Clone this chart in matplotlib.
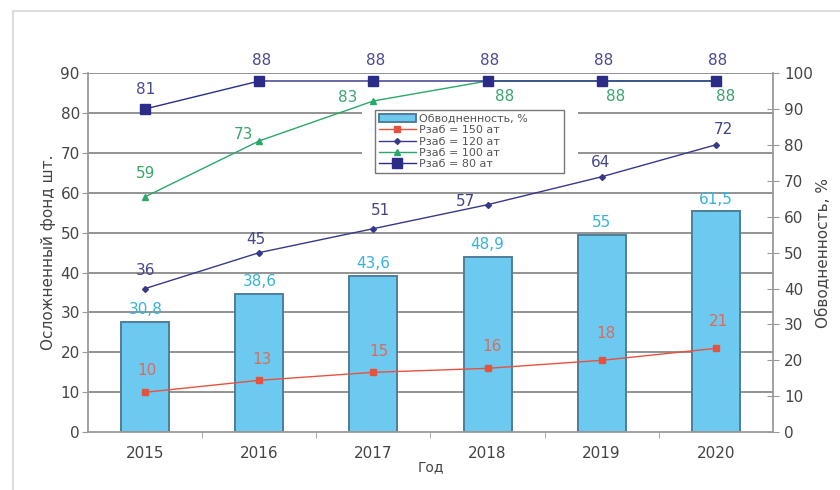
import matplotlib
matplotlib.use('Agg')
import matplotlib.pyplot as plt
import matplotlib.transforms as mtransforms
from matplotlib.patches import Rectangle
from matplotlib.lines import Line2D

plt.rcParams['font.family'] = ['DejaVu Sans']

years = ['2015', '2016', '2017', '2018', '2019', '2020']
water = [30.8, 38.6, 43.6, 48.9, 55, 61.5]
p150 = [10, 13, 15, 16, 18, 21]
p120 = [36, 45, 51, 57, 64, 72]
p100 = [59, 73, 83, 88, 88, 88]
p80 = [81, 88, 88, 88, 88, 88]

# label offsets in pixels (dx, dy)
off150 = [(2, 22), (3, 21), (5, 21), (4, 22), (4, 27), (3, 27)]
off120 = [(0, 18), (-3, 13), (7, 18), (-22, 3), (-1, 14), (8, 15)]
off100 = [(0, 23), (-16, 6), (-26, 3), (17, -16), (14, -16), (10, -16)]
off80 = [(0, 19), (2, 20), (2, 20), (2, 20), (2, 20), (2, 20)]

x = list(range(len(years)))
grey = '#9a9a9a'
txt = '#444444'

fig = plt.figure(figsize=(8.4, 4.9), dpi=100)
axb = fig.add_axes([0.105, 0.118, 0.815, 0.733])
axl = axb.twinx()
axb.yaxis.tick_right()
axb.yaxis.set_label_position('right')
axl.yaxis.tick_left()
axl.yaxis.set_label_position('left')

axb.set_xlim(-0.5, 5.5)
axb.set_ylim(0, 100)
axl.set_ylim(0, 90)

# horizontal grid following the left scale, drawn under the bars
trans = mtransforms.blended_transform_factory(axb.transAxes, axl.transData)
for g in range(10, 91, 10):
    axb.plot([0, 1], [g, g], transform=trans, color='#8a8a8a', lw=1.3, zorder=0.5)
axb.add_patch(Rectangle((0.400, 0.668), 0.315, 0.257, transform=axb.transAxes,
                        facecolor='white', edgecolor='none', zorder=1))

bars = axb.bar(x, water, width=0.42, color='#6ccaf0', edgecolor='#4f7d98',
               linewidth=1.4, zorder=2)
for i, w in enumerate(water):
    axb.annotate(f'{w:g}'.replace('.', ','), (i, w), xytext=(0, 12),
                 textcoords='offset pixels', ha='center', va='center',
                 color='#35b3d8', fontsize=11)

l150, = axl.plot(x, p150, color='#e5533f', lw=1, marker='s', ms=4, zorder=3)
l120, = axl.plot(x, p120, color='#38388a', lw=1, marker='D', ms=3, zorder=3)
l100, = axl.plot(x, p100, color='#2aa86a', lw=1, marker='^', ms=5, zorder=3)
l80, = axl.plot(x, p80, color='#2b2b88', lw=1, marker='s', ms=7, zorder=4)

for vals, offs, col in [(p150, off150, '#dc6a5c'), (p120, off120, '#45458a'),
                        (p100, off100, '#3aa46e'), (p80, off80, '#4a4a92')]:
    for i, v in enumerate(vals):
        axl.annotate(str(v), (i, v), xytext=offs[i], textcoords='offset pixels',
                     ha='center', va='center', color=col, fontsize=11)

leg = axl.legend([bars, l150, l120, l100, l80],
                 ['Обводненность, %', 'Рзаб = 150 ат', 'Рзаб = 120 ат',
                  'Рзаб = 100 ат', 'Рзаб = 80 ат'],
                 loc='upper left', bbox_to_anchor=(0.419, 0.696, 0.276, 0.201),
                 mode='expand', borderaxespad=0, fontsize=8, handlelength=3.3,
                 labelspacing=0.12, borderpad=0.35, handletextpad=0.3,
                 fancybox=False, framealpha=1, edgecolor='#777777')
leg.get_frame().set_linewidth(1)
for t in leg.get_texts():
    t.set_color('#555555')

axb.set_xticks(x)
axb.set_xticklabels(years)
axb.set_xticks([0.5, 1.5, 2.5, 3.5, 4.5], minor=True)
axb.tick_params(axis='x', which='major', length=0, pad=10, labelsize=11, labelcolor=txt)
axb.tick_params(axis='x', which='minor', length=4, color=grey, direction='out')
axb.set_yticks(range(0, 101, 10))
axb.tick_params(axis='y', direction='inout', length=8, color=grey, pad=4,
                labelsize=11, labelcolor=txt)
axl.set_yticks(range(0, 91, 10))
axl.tick_params(axis='y', direction='out', length=4, color=grey, pad=2,
                labelsize=11, labelcolor=txt)

for s in ['left', 'right', 'bottom']:
    axb.spines[s].set_color(grey)
    axb.spines[s].set_linewidth(1.3)
axb.spines['top'].set_visible(False)
for s in axl.spines.values():
    s.set_visible(False)

axb.set_xlabel('Год', fontsize=10, color=txt, labelpad=-1)
axb.set_ylabel('Обводненность, %', fontsize=11, color=txt, labelpad=2)
axl.set_ylabel('Осложненный фонд шт.', fontsize=11, color=txt, labelpad=3)

fig.add_artist(Line2D([0.0155, 0.0155], [0, 0.9776], color='#dddddd', lw=1.5))
fig.add_artist(Line2D([0.0155, 1], [0.9776, 0.9776], color='#dddddd', lw=1.5))

fig.savefig('out.png', dpi=100)
